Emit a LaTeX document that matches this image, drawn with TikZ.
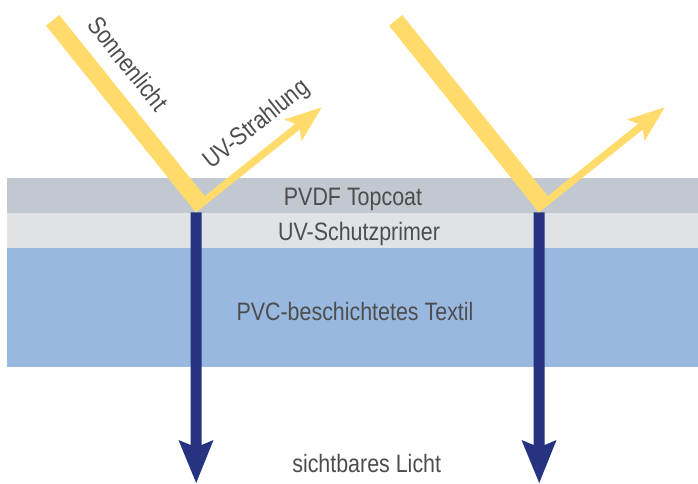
\documentclass[tikz,border=0pt]{standalone}
\usepackage{fontspec}
\setmainfont{Liberation Sans}[FakeStretch=0.85]
\definecolor{sun}{HTML}{FFDB6B}
\definecolor{rayblue}{HTML}{263380}
\definecolor{topcoatc}{HTML}{C1C8CF}
\definecolor{primerc}{HTML}{DFE3E6}
\definecolor{pvcc}{HTML}{99B8E0}
\definecolor{txt}{HTML}{4D4D4D}
\begin{document}
\begin{tikzpicture}[x=1pt,y=-1pt,
  lbl/.style={text=txt, font=\fontsize{25.2}{30}\selectfont, inner sep=0pt, anchor=base}]
\useasboundingbox (0,0) rectangle (698,483);
% layers
\fill[topcoatc] (7,178) rectangle (698,212.5);
\fill[primerc] (7,212.5) rectangle (698,247.5);
\fill[pvcc] (7,247.5) rectangle (698,366.5);
% rays
\foreach \dx in {0,343} {
  \begin{scope}[xshift=\dx pt]
    \fill[rayblue] (190.7,212.3) -- (190.7,445) -- (178.5,440) -- (196.2,483)
      -- (213.5,440) -- (201.7,445) -- (201.7,212.3) -- cycle;
    \fill[sun] (46,25.7) -- (59.3,15) -- (204.7,196.1) -- (295.2,123.75)
      -- (284.1,119.5) -- (321.7,107.3) -- (301.5,141.3) -- (299.8,129.5)
      -- (195.9,212.5) -- cycle;
  \end{scope}
}
% labels
\node[lbl] (topcoat) at (353,205) {PVDF Topcoat};
\node[lbl] (primer) at (359,240) {UV-Schutzprimer};
\node[lbl] (pvc) at (355,320) {PVC-beschichtetes Textil};
\node[lbl] (visible) at (366.7,472) {sichtbares Licht};
\node[lbl, rotate=-51.5] (sunlabel) at (121,69) {Sonnenlicht};
\node[lbl, rotate=38.6] (uvlabel) at (260.8,130.1) {UV-Strahlung};
\end{tikzpicture}
\end{document}
